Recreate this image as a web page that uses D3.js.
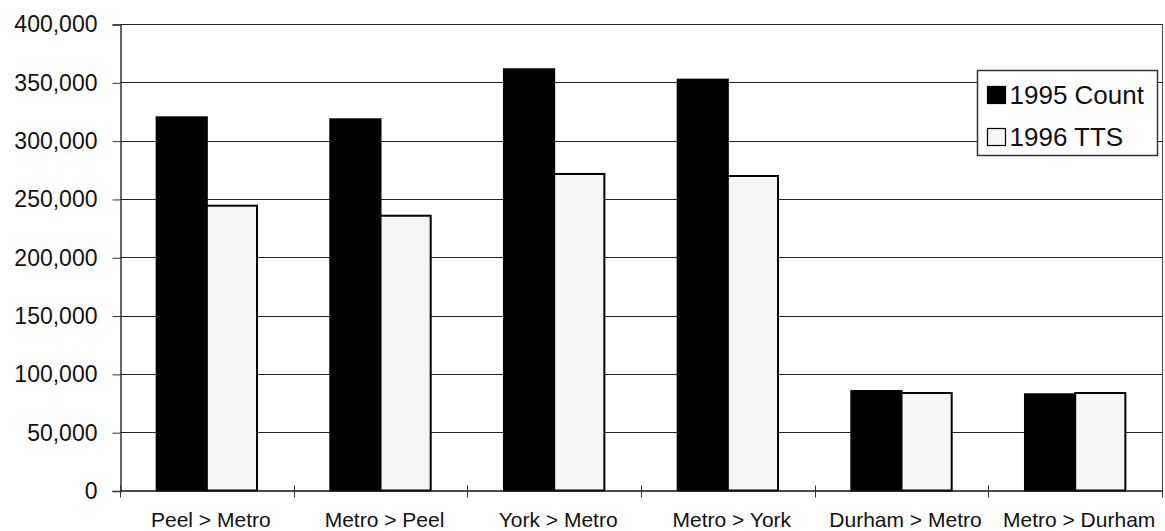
<!DOCTYPE html>
<html>
<head>
<meta charset="utf-8">
<script src="https://cdn.jsdelivr.net/npm/d3@7"></script>
<style>
  html, body { margin: 0; padding: 0; background: #fff; }
  svg { display: block; font-family: "Liberation Sans", Arial, sans-serif; }
</style>
</head>
<body>
<svg id="chart" width="1165" height="531"></svg>
<script>
// Screen-line volumes by direction
const categories = ["Peel > Metro", "Metro > Peel", "York > Metro", "Metro > York", "Durham > Metro", "Metro > Durham"];
const seriesNames = ["1995 Count", "1996 TTS"];
const count1995 = [320000, 318300, 361200, 352300, 85300, 82500];
const tts1996 = [244200, 235600, 271400, 269700, 83600, 83600];
const yTicks = [0, 50000, 100000, 150000, 200000, 250000, 300000, 350000, 400000];

const fills = ["#000000", "#f5f5f5"];

const svg = d3.select("#chart");
const margin = { left: 120, right: 3, top: 24, bottom: 40.5 };
const W = 1165, H = 531;
const x0 = margin.left, x1 = W - margin.right;
const y0 = H - margin.bottom, y1 = margin.top;

const x = d3.scaleBand().domain(categories).range([x0, x1]).paddingInner(0).paddingOuter(0);
const xs = d3.scaleBand().domain(seriesNames).range([0, x.bandwidth()]).paddingInner(0).paddingOuter(0.73);
const y = d3.scaleLinear().domain([0, 400000]).range([y0, y1]);

// Horizontal gridlines
svg.append("g")
  .selectAll("line")
  .data(yTicks.filter(d => d > 0))
  .join("line")
  .attr("x1", x0).attr("x2", x1)
  .attr("y1", d => Math.round(y(d)) + 0.5).attr("y2", d => Math.round(y(d)) + 0.5)
  .attr("stroke", "#222").attr("stroke-width", 1);

// Right border of the plot area
svg.append("line")
  .attr("x1", x1 + 0.5).attr("x2", x1 + 0.5)
  .attr("y1", y1).attr("y2", y0)
  .attr("stroke", "#444").attr("stroke-width", 1);

// Bars
const rows = categories.map((c, i) => ({ cat: c, vals: [count1995[i], tts1996[i]] }));
const groups = svg.append("g").selectAll("g")
  .data(rows)
  .join("g")
  .attr("transform", d => `translate(${x(d.cat)},0)`);

groups.selectAll("rect")
  .data(d => d.vals.map((v, k) => ({ v, k })))
  .join("rect")
  .attr("x", d => xs(seriesNames[d.k]))
  .attr("width", xs.bandwidth())
  .attr("y", d => y(d.v))
  .attr("height", d => y(0) - y(d.v))
  .attr("fill", d => fills[d.k])
  .attr("stroke", "#000")
  .attr("stroke-width", 2);

// Y axis
const yAxis = d3.axisLeft(y)
  .tickValues(yTicks)
  .tickSize(8)
  .tickPadding(15)
  .tickFormat(d3.format(","));
const gy = svg.append("g").attr("transform", `translate(${x0 + 0.5},0.5)`).call(yAxis);
gy.select(".domain").attr("stroke", "#333").attr("stroke-width", 1.5);
gy.selectAll(".tick line").attr("stroke", "#333");
gy.selectAll(".tick text")
  .attr("font-size", 23)
  .attr("fill", "#111")
  .attr("font-family", "Liberation Sans, Arial, sans-serif");

// X axis: tick marks at category boundaries crossing the axis line
const gx = svg.append("g");
gx.append("line")
  .attr("x1", x0).attr("x2", x1 + 1)
  .attr("y1", y0 + 0.5).attr("y2", y0 + 0.5)
  .attr("stroke", "#111").attr("stroke-width", 1.5);
const bounds = categories.map(c => x(c)).concat([x1]);
gx.selectAll("line.tk")
  .data(bounds)
  .join("line")
  .attr("class", "tk")
  .attr("x1", d => Math.round(d) + 0.5).attr("x2", d => Math.round(d) + 0.5)
  .attr("y1", y0 - 5).attr("y2", y0 + 7)
  .attr("stroke", "#333");
gx.selectAll("text")
  .data(categories)
  .join("text")
  .attr("x", d => x(d) + x.bandwidth() / 2 + 4)
  .attr("y", y0 + 36)
  .attr("text-anchor", "middle")
  .attr("font-size", 21)
  .attr("fill", "#111")
  .text(d => d);

// Legend
const lg = svg.append("g").attr("transform", "translate(977.5,70.5)");
lg.append("rect")
  .attr("width", 180).attr("height", 85)
  .attr("fill", "#fff").attr("stroke", "#333").attr("stroke-width", 1.5);
const items = lg.selectAll("g.item")
  .data(seriesNames)
  .join("g")
  .attr("class", "item")
  .attr("transform", (d, i) => `translate(0,${16 + i * 42})`);
items.append("rect")
  .attr("x", 10).attr("y", 0)
  .attr("width", 18).attr("height", 17)
  .attr("fill", (d, i) => fills[i])
  .attr("stroke", "#000").attr("stroke-width", 1.2);
items.append("text")
  .attr("x", 32).attr("y", 17)
  .attr("font-size", 26)
  .attr("fill", "#111")
  .text(d => d);
</script>
</body>
</html>
